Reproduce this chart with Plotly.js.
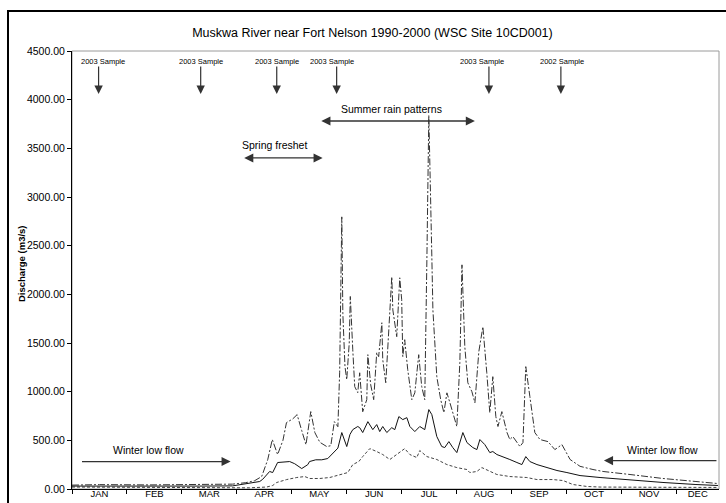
<!DOCTYPE html>
<html><head><meta charset="utf-8">
<script src="https://cdn.plot.ly/plotly-3.0.1.min.js"></script>
<style>
html,body{margin:0;padding:0;background:#fff;overflow:hidden;}
#chart{width:726px;height:503px;}
#frame{position:absolute;left:7px;top:10px;width:800px;height:600px;border-left:2px solid #000;border-top:2px solid #000;pointer-events:none;}
</style>
</head><body><div id="chart"></div><div id="frame"></div>
<script>
// ---- data (day of year, discharge m3/s) ----
const maxDay = [0,15.5,44,72,90.6,98,103,107,110.4,113,116,119,121,124.5,127,129.6,132,134.7,137,139.8,143.7,146,148,150,151,152.2,152.8,154,155,156.4,157,158.4,159.5,161.2,162.3,164,166.3,166.9,168.5,170.2,171.9,173,174.8,175.3,177,178,180.4,181,183.2,184.9,186,186.6,187.7,189.4,191.7,193.4,195.6,197.3,199,200.2,201.3,203,203.6,205.8,208,209.8,211.5,213.2,217.1,218.8,220,221.6,223.3,225.6,227.3,229.5,231.8,234,235.7,237.4,239.1,240.3,242.5,245.4,247,248.7,252.7,254.4,256,258.3,261.1,264,268.5,272.4,276.4,281,286.6,293.9,299.6,314.8,333.4,352,364.4];
const maxQ   = [40,45,42,45,50,65,85,128,300,508,354,500,682,720,764,600,456,795,580,480,436,445,692,640,1200,2796,1800,1257,1124,1500,1978,1430,1052,990,1194,794,918,1380,1072,918,1400,1360,1708,1330,1092,1400,2180,1840,1565,2170,1944,1360,1534,1226,918,988,1380,1052,918,2355,3840,2385,1840,1154,918,784,988,886,642,1300,2303,1462,1092,1000,886,1410,1667,1194,784,1154,744,642,795,580,508,539,436,477,1257,950,580,508,487,405,456,303,233,200,180,149,108,77,56];

const meanDay = [0,15.5,44,72,90.6,105.9,107.6,111.5,113.2,116,120,122.8,125.6,129.6,133,134,137.5,140.9,144.3,148.2,150,152.2,155,156.8,158.4,161.2,162.3,164,166.9,169.7,171.9,173.6,175.3,177.6,180.4,182.1,184.4,186.6,188.9,190.6,193.4,196.2,199,201.3,203,205.8,208.6,210.3,212.6,214.8,217.1,220.5,222.8,226.1,228.4,230.1,232.9,235.7,237.4,239.7,243.1,247,251,253.8,256,258.3,262.3,267.9,273.6,279.2,286.6,297.9,310.9,333.4,352,364.4];
const meanQ   = [30,32,30,30,32,77,100,180,169,272,282,282,260,210,250,282,300,300,313,380,420,580,436,560,610,642,630,580,692,610,662,590,642,580,630,610,744,713,733,642,590,642,610,816,764,539,436,426,487,426,374,580,477,426,405,508,456,374,385,354,333,303,272,251,333,282,251,220,190,169,138,118,97,67,46,36];

const minDay = [0,44,72,90,100,109.8,113.2,115.5,121.1,126.8,131.3,134.1,139.8,145.4,151,155.6,158.4,161.8,164,168,171.9,175.3,179.3,183.2,187.7,190.6,194.5,196.2,200.2,205.8,211.5,217.1,222.8,224.4,228.4,231.2,234.6,239.7,247,256.6,262.3,271.3,277,282.6,290.5,297.9,326,364.4];
const minQ   = [20,18,18,15,12,20,36,67,97,118,128,108,108,118,149,169,251,282,333,415,385,354,303,354,415,354,323,395,333,303,251,220,200,169,180,220,190,149,128,118,97,97,87,46,26,20,18,16];

const monthLabels = ['JAN','FEB','MAR','APR','MAY','JUN','JUL','AUG','SEP','OCT','NOV','DEC'];
const yTicks = [0,500,1000,1500,2000,2500,3000,3500,4000,4500];
const sampleLabels = ['2003 Sample','2003 Sample','2003 Sample','2003 Sample','2003 Sample','2002 Sample'];
const sampleDays = [15,72.6,115.5,149.3,235.2,275.8];
const sampleTextDays = [17.5,72.6,115.5,146.5,231.2,276.4];

// ---- month tick geometry (31-day tick interval on a 365-day axis) ----
const bounds = monthLabels.map((m,i)=>31*i);
const mids = monthLabels.map((m,i)=> i<11 ? 31*i+15.5 : (31*i+365)/2);

const FONT = 'Liberation Sans, Arial, sans-serif';
const traces = [
  {x:maxDay, y:maxQ, type:'scatter', mode:'lines', name:'Max',
   line:{color:'#333', width:1, dash:'7px,2px,2px,2px'}},
  {x:minDay, y:minQ, type:'scatter', mode:'lines', name:'Min',
   line:{color:'#444', width:1, dash:'3px,2px'}},
  {x:meanDay, y:meanQ, type:'scatter', mode:'lines', name:'Mean',
   line:{color:'#111', width:1}}
];

const ann = [];
sampleLabels.forEach((t,i)=>{
  ann.push({x:sampleTextDays[i], y:4396, xref:'x', yref:'y', text:t, showarrow:false,
    font:{family:FONT, size:7.5, color:'#000'}});
  ann.push({x:sampleDays[i], y:4058, ax:sampleDays[i], ay:4355, xref:'x', yref:'y', axref:'x', ayref:'y',
    text:'', showarrow:true, arrowhead:2, arrowsize:1.4, arrowwidth:1.2, arrowcolor:'#333'});
});
function dbl(x0,x1,y,side){
  return {x:x1, y:y, ax:x0, ay:y, xref:'x', yref:'y', axref:'x', ayref:'y', text:'',
    showarrow:true, arrowhead:2, startarrowhead:2, arrowside:side, arrowsize:1.4, startarrowsize:1.4,
    arrowwidth:1.3, arrowcolor:'#333'};
}
ann.push(dbl(96.3,141.4,3401,'end+start'));
ann.push({x:114.3, y:3535, xref:'x', yref:'y', text:'Spring freshet', showarrow:false, font:{family:FONT,size:10.5,color:'#000'}});
ann.push(dbl(139.8,227.3,3781,'end+start'));
ann.push({x:180.1, y:3904, xref:'x', yref:'y', text:'Summer rain patterns', showarrow:false, font:{family:FONT,size:10.5,color:'#000'}});
ann.push(dbl(4.8,89.5,282,'end'));
ann.push({x:43.2, y:405, xref:'x', yref:'y', text:'Winter low flow', showarrow:false, font:{family:FONT,size:10.5,color:'#000'}});
ann.push(dbl(364.4,300.1,292,'end'));
ann.push({x:332.9, y:405, xref:'x', yref:'y', text:'Winter low flow', showarrow:false, font:{family:FONT,size:10.5,color:'#000'}});
// y-axis title placed to match the reference position
ann.push({x:-0.077, y:0.514, xref:'paper', yref:'paper', text:'<b>Discharge (m3/s)</b>', textangle:-90,
  showarrow:false, xanchor:'center', yanchor:'middle', font:{family:FONT, size:9.5, color:'#000'}});

const layout = {
  width:726, height:503,
  margin:{l:72, r:7, t:51, b:14, pad:0},
  paper_bgcolor:'#fff', plot_bgcolor:'#fff',
  showlegend:false,
  font:{family:FONT, color:'#000'},
  title:{text:'Muskwa River near Fort Nelson 1990-2000 (WSC Site 10CD001)', x:0.513, xanchor:'center', y:0.935, yanchor:'middle',
    font:{family:FONT, size:12.5, color:'#000'}},
  xaxis:{range:[0,365], showgrid:false, zeroline:false, showline:true, linecolor:'#000', linewidth:1,
    tickmode:'array', tickvals:mids, ticktext:monthLabels, ticks:'outside', ticklen:0,
    ticklabelstandoff:-4,
    tickfont:{family:FONT, size:9.5, color:'#000'},
    minor:{tickmode:'array', tickvals:bounds, ticks:'outside', ticklen:4, tickcolor:'#000', tickwidth:1}},
  yaxis:{range:[0,4500], showgrid:false, zeroline:false, showline:true, linecolor:'#000', linewidth:1,
    tickmode:'array', tickvals:yTicks, tickformat:'.2f', ticks:'outside', ticklen:4, tickcolor:'#000',
    tickfont:{family:FONT, size:10.5, color:'#000'}},
  shapes:[{type:'rect', xref:'paper', yref:'paper', x0:0, x1:1, y0:0, y1:1, line:{color:'#9a9a9a', width:1}, layer:'below'}],
  annotations:ann
};
Plotly.newPlot('chart', traces, layout, {displayModeBar:false, staticPlot:true});
</script></body></html>
